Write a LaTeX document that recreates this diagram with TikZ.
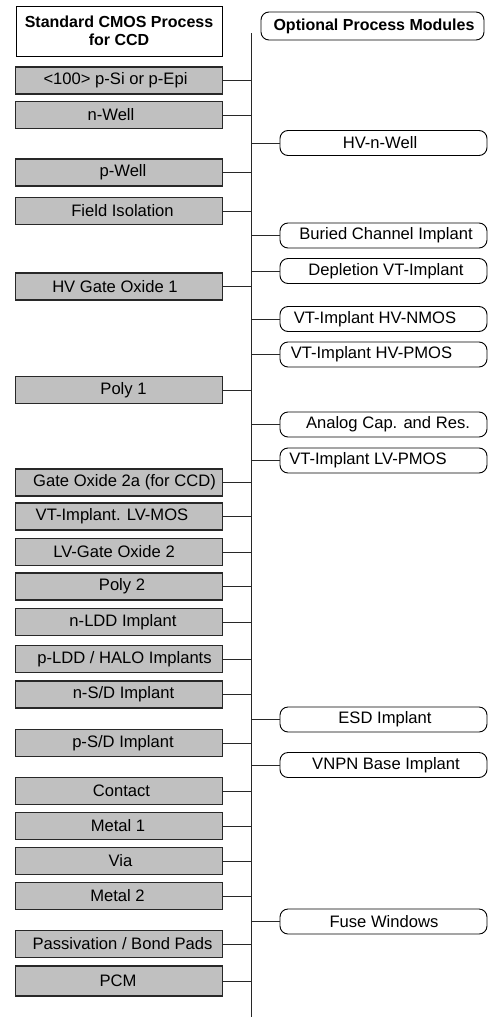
\documentclass[tikz,border=0pt]{standalone}
\usepackage{fontspec}
\setmainfont{Liberation Sans}
\definecolor{boxgray}{RGB}{192,192,192}
\definecolor{edgegray}{RGB}{40,40,40}
\newcommand\tsh[2]{\ifdim#1pt>0pt\hspace*{#1pt}\fi#2\ifdim#1pt<0pt\hspace*{-#1pt}\fi}
\begin{document}
\begin{tikzpicture}[x=1pt,y=-1pt,
  stdbox/.style={draw=edgegray, line width=1.1pt, fill=boxgray, minimum width=207pt, minimum height=27pt, inner sep=0pt, font=\fontsize{16.6}{18}\selectfont},
  headbox/.style={draw=black, line width=1pt, fill=white, minimum width=206pt, minimum height=50pt, inner sep=0pt, align=center, font=\fontsize{16}{18}\selectfont\bfseries},
  optbox/.style={draw=black, line width=0.9pt, fill=white, rounded corners=8pt, minimum width=207pt, minimum height=25pt, inner sep=0pt, font=\fontsize{16.6}{18}\selectfont},
  optheadbox/.style={optbox, minimum width=223pt, minimum height=28pt, font=\fontsize{16}{18}\selectfont\bfseries},
  link/.style={draw=edgegray, line width=0.9pt}]
\useasboundingbox (0,0) rectangle (490,1017);
\coordinate (spinetop) at (251,33);
\coordinate (spinebot) at (251,1017);
\draw[link] (spinetop) -- (spinebot);
% headers
\node[headbox] (hstd) at (119,31) {Standard CMOS Process\\for CCD};
\node[optheadbox] (hopt) at (372.5,26) {\tsh{3}{Optional Process Modules}};
% standard process steps
\node[stdbox] (s1)  at (119,80.5)  {\tsh{-7}{<100> p-Si or p-Epi}};
\node[stdbox] (s2)  at (119,115)   {\tsh{-16}{n-Well}};
\node[stdbox] (s3)  at (119,172.5) {\tsh{8}{p-Well}};
\node[stdbox] (s4)  at (119,211)   {\tsh{7}{Field Isolation}};
\node[stdbox] (s5)  at (119,286.5) {\tsh{-8}{HV Gate Oxide 1}};
\node[stdbox] (s6)  at (119,390)   {\tsh{9}{Poly 1}};
\node[stdbox] (s7)  at (119,482.5) {\tsh{11}{Gate Oxide 2a (for CCD)}};
\node[stdbox] (s8)  at (119,516.5) {\tsh{-14}{VT-Implant. LV-MOS}};
\node[stdbox] (s9)  at (119,552)   {\tsh{-10}{LV-Gate Oxide 2}};
\node[stdbox] (s10) at (119,586.5) {\tsh{6}{Poly 2}};
\node[stdbox] (s11) at (119,622)   {\tsh{8}{n-LDD Implant}};
\node[stdbox] (s12) at (119,659)   {\tsh{11}{p-LDD / HALO Implants}};
\node[stdbox] (s13) at (119,694.5) {\tsh{9}{n-S/D Implant}};
\node[stdbox] (s14) at (119,743)   {\tsh{8}{p-S/D Implant}};
\node[stdbox] (s15) at (119,791)   {\tsh{5}{Contact}};
\node[stdbox] (s16) at (119,826)   {\tsh{-2}{Metal 1}};
\node[stdbox] (s17) at (119,861)   {\tsh{3}{Via}};
\node[stdbox] (s18) at (119,896)   {\tsh{-3}{Metal 2}};
\node[stdbox] (s19) at (119,944)   {\tsh{7}{Passivation / Bond Pads}};
\node[stdbox, minimum height=30pt] (s20) at (119,981) {\tsh{-2}{PCM}};
% optional modules
\node[optbox] (o1)  at (383.5,143)   {\tsh{-7}{HV-n-Well}};
\node[optbox] (o2)  at (383.5,235.5) {\tsh{5}{Buried Channel Implant}};
\node[optbox] (o3)  at (383.5,271)   {\tsh{5}{Depletion VT-Implant}};
\node[optbox] (o4)  at (383.5,319)   {\tsh{-17}{VT-Implant HV-NMOS}};
\node[optbox] (o5)  at (383.5,354.5) {\tsh{-24}{VT-Implant HV-PMOS}};
\node[optbox] (o6)  at (383.5,424.5) {\tsh{9}{Analog Cap. and Res.}};
\node[optbox] (o7)  at (383.5,460.5) {\tsh{-31}{VT-Implant LV-PMOS}};
\node[optbox] (o8)  at (383.5,719.5) {\tsh{3}{ESD Implant}};
\node[optbox] (o9)  at (383.5,765)   {\tsh{5}{VNPN Base Implant}};
\node[optbox] (o10) at (383.5,921.5) {\tsh{1}{Fuse Windows}};
% connectors
\foreach \n in {s1,s2,s3,s4,s5,s6,s7,s8,s9,s10,s11,s12,s13,s14,s15,s16,s17,s18,s19,s20}
  \draw[link] (\n.east) -- (\n.east -| spinetop);
\foreach \n in {o1,o2,o3,o4,o5,o6,o7,o8,o9,o10}
  \draw[link] (\n.west -| spinetop) -- (\n.west);
\end{tikzpicture}
\end{document}
